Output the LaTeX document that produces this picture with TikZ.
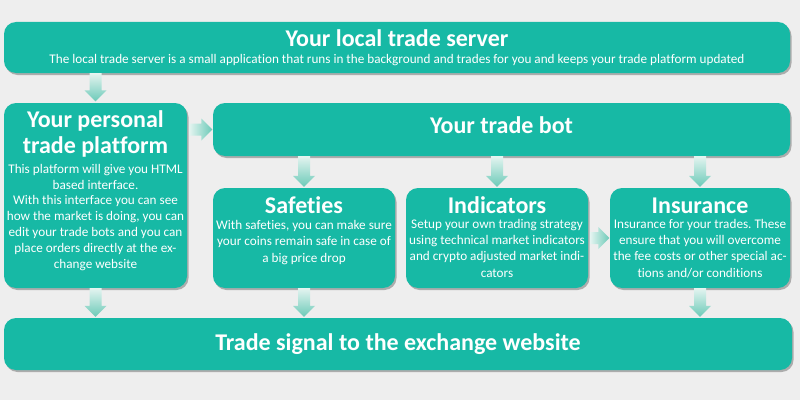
\documentclass[tikz,border=0pt]{standalone}
\usepackage{fontspec}
\setmainfont{Carlito}[Ligatures=CommonOff]
\frenchspacing
\usetikzlibrary{shadows,calc}
\definecolor{bg}{HTML}{EEEEEE}
\definecolor{teal1}{HTML}{17B9A5}
\definecolor{arrtop}{HTML}{E4F4F0}
\definecolor{arrbot}{HTML}{6CCAB8}
\newcommand\vfat[2]{\shade[top color=arrtop, bottom color=arrbot] let \p1=#1, \p2=#2 in
  (\x1-6pt,\y1) -- (\x1-6pt,\y2+11pt) -- (\x1-11pt,\y2+11pt) -- (\x1,\y2) -- (\x1+11pt,\y2+11pt) -- (\x1+6pt,\y2+11pt) -- (\x1+6pt,\y1) -- cycle;}
\newcommand\hfat[2]{\shade[left color=arrtop, right color=arrbot] let \p1=#1, \p2=#2 in
  (\x1,\y1-6pt) -- (\x2-11pt,\y1-6pt) -- (\x2-11pt,\y1-11pt) -- (\x2,\y1) -- (\x2-11pt,\y1+11pt) -- (\x2-11pt,\y1+6pt) -- (\x1,\y1+6pt) -- cycle;}
\begin{document}
\begin{tikzpicture}[x=1pt,y=1pt,
 box/.style={fill=teal1, rounded corners=12pt, draw=none, inner sep=0pt,
   drop shadow={shadow xshift=1.5pt, shadow yshift=-2pt, opacity=.35, fill=black!80}},
 ttl/.style={text=white, font=\bfseries\fontsize{24}{26}\selectfont, inner sep=0pt, align=center},
 body/.style={text=white, font=\fontsize{13.2}{16.2}\selectfont, align=center, inner sep=0pt},
]
\fill[bg] (0,0) rectangle (800,400);
\useasboundingbox (0,0) rectangle (800,400);
% boxes
\node[box, minimum width=786pt, minimum height=51pt] (top) at (397,352.5) {};
\node[box, minimum width=183pt, minimum height=185pt] (plat) at (95.5,204.5) {};
\node[box, minimum width=577pt, minimum height=53pt] (bot) at (501.5,270.5) {};
\node[box, minimum width=182pt, minimum height=100pt] (saf) at (304,162) {};
\node[box, minimum width=182pt, minimum height=100pt] (ind) at (497,162) {};
\node[box, minimum width=180pt, minimum height=100pt] (ins) at (700,162) {};
\node[box, minimum width=788pt, minimum height=52pt] (sig) at (398,56) {};
% texts
\node[ttl, anchor=base] (topt) at (397,353) {Your local trade server};
\node[body, anchor=base] (tops) at (397,337) {The local trade server is a small application that runs in the background and trades for you and keeps your trade platform updated};
\node[ttl, anchor=base] (platt) at (95.5,247) {Your personal\\trade platform};
\node[body, anchor=base, font=\fontsize{13.2}{15.8}\selectfont] (platb) at (95.5,132) {This platform will give you HTML\\based interface.\\With this interface you can see\\how the market is doing, you can\\edit your trade bots and you can\\place orders directly at the ex-\\change website};
\node[ttl, anchor=base] (bott) at (501.5,267) {Your trade bot};
\node[ttl, anchor=base] (saft) at (304,187) {Safeties};
\node[body, anchor=base] (safb) at (304,138) {With safeties, you can make sure\\your coins remain safe in case of\\a big price drop};
\node[ttl, anchor=base] (indt) at (497,187) {Indicators};
\node[body, anchor=base] (indb) at (497,123) {Setup your own trading strategy\\using technical market indicators\\and crypto adjusted market indi-\\cators};
\node[ttl, anchor=base] (inst) at (700,187) {Insurance};
\node[body, anchor=base] (insb) at (700,123) {Insurance for your trades. These\\ensure that you will overcome\\the fee costs or other special ac-\\tions and/or conditions};
\node[ttl, anchor=base] (sigt) at (398,50) {Trade signal to the exchange website};
% arrows
\vfat{(plat.north |- top.south)}{($(plat.north)+(0,1.5pt)$)}
\hfat{($(plat.east |- bot.west)+(2pt,0)$)}{($(bot.west)+(-0.5pt,0)$)}
\vfat{(saf.north |- bot.south)}{($(saf.north)+(0,1pt)$)}
\vfat{(ind.north |- bot.south)}{($(ind.north)+(0,1pt)$)}
\vfat{(ins.north |- bot.south)}{($(ins.north)+(0,1pt)$)}
\hfat{($(ind.east)+(2pt,0)$)}{($(ins.west)+(-0.5pt,0)$)}
\vfat{(plat.south)}{($(plat.south |- sig.north)+(0,1pt)$)}
\vfat{(saf.south)}{($(saf.south |- sig.north)+(0,1pt)$)}
\vfat{(ins.south)}{($(ins.south |- sig.north)+(0,1pt)$)}
\end{tikzpicture}
\end{document}
